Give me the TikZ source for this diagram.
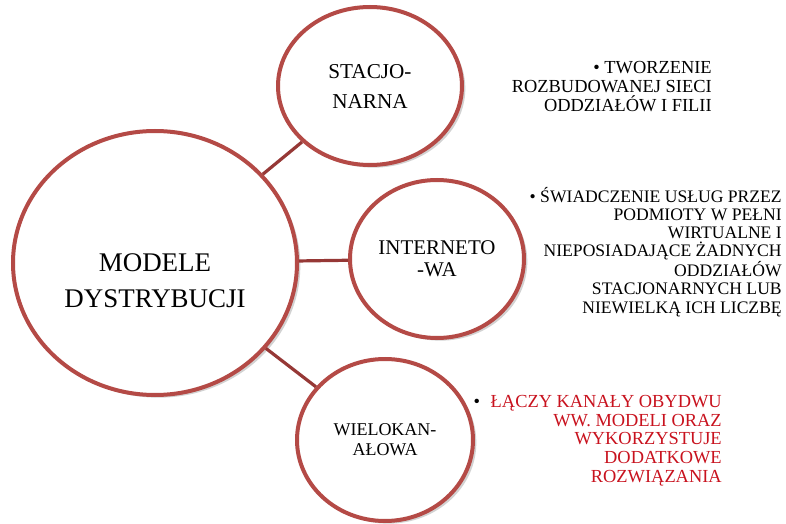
\documentclass[tikz,border=0pt]{standalone}
\usepackage{fontspec}
\setmainfont{Liberation Serif}
\usetikzlibrary{shapes.geometric,shadows}
\definecolor{ringred}{RGB}{180,74,70}
\definecolor{linkred}{RGB}{150,56,54}
\definecolor{notered}{RGB}{200,18,30}
\tikzset{
ring/.style={ellipse, draw=ringred, line width=3pt, fill=white, inner sep=0pt, align=center,
  drop shadow={shadow xshift=2.5pt, shadow yshift=-2pt, opacity=0.25, fill=black!70}}, % one model circle
link/.style={draw=linkred, line width=2.4pt}, % line between circles
note/.style={align=right, inner sep=0pt, anchor=base east}, % text on the right
}

\begin{document}
\begin{tikzpicture}[x=0.75pt,y=0.75pt,yscale=-1,xscale=1]
\useasboundingbox (0,0) rectangle (786,524);
%Circles
\node[ring, minimum width=213pt, minimum height=198pt] (modele) at (155,263) {};
\node[ring, minimum width=138pt, minimum height=118.5pt, font=\fontsize{15.9}{22.5}\selectfont] (stac) at (370,86) {STACJO-\\NARNA};
\node[ring, minimum width=130.5pt, minimum height=118.5pt, font=\fontsize{15.7}{16.5}\selectfont] (inter) at (437,259) {INTERNETO\\{-}WA};
\node[ring, minimum width=132pt, minimum height=121.5pt, font=\fontsize{13.5}{15}\selectfont] (wielo) at (385,440) {WIELOKAN-\\AŁOWA};
\node[align=center, font=\fontsize{20.2}{27}\selectfont] (modeletxt) at ([yshift=13pt]modele.center) {MODELE\\DYSTRYBUCJI};
%Lines
\draw[link] (modele) -- (stac);
\draw[link] (modele) -- (inter);
\draw[link] (modele) -- (wielo);
%Texts
\node[note, font=\fontsize{13.8}{14.6}\selectfont] (stacnote) at (712,112) {\textbullet\ TWORZENIE\\ROZBUDOWANEJ SIECI\\ODDZIAŁÓW I FILII};
\node[note, font=\fontsize{13.2}{13.6}\selectfont] (internote) at (782,313) {\textbullet\ ŚWIADCZENIE USŁUG PRZEZ\\PODMIOTY W PEŁNI\\WIRTUALNE I\\NIEPOSIADAJĄCE ŻADNYCH\\ODDZIAŁÓW\\STACJONARNYCH LUB\\NIEWIELKĄ ICH LICZBĘ};
\node[note, font=\fontsize{13.8}{14}\selectfont, text=notered] (wielonote) at (722,482) {\textcolor{black}{\textbullet}\hspace{8pt}ŁĄCZY KANAŁY OBYDWU\\WW. MODELI ORAZ\\WYKORZYSTUJE\\DODATKOWE\\ROZWIĄZANIA};
\end{tikzpicture}
\end{document}
